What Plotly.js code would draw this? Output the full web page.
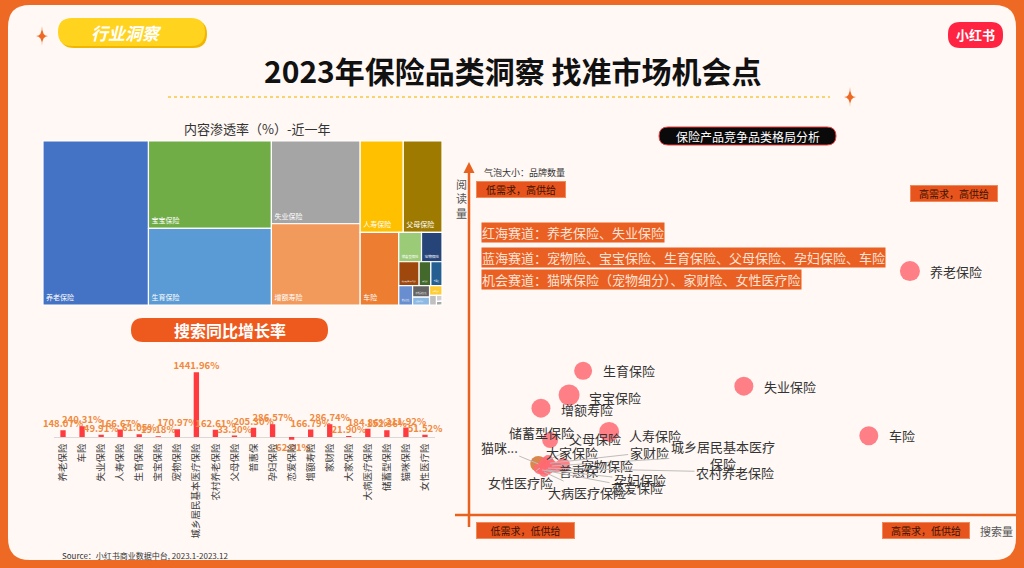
<!DOCTYPE html>
<html><head><meta charset="utf-8">
<script src="https://cdn.plot.ly/plotly-3.0.1.min.js"></script>
<style>html,body{margin:0;padding:0;background:#EE6A24;}#chart{width:1024px;height:568px;}</style>
</head><body><div id="chart"></div>
<script>
// ---------- DATA ----------
const treeLabels = ['养老保险','宝宝保险','生育保险','失业保险','增额寿险','人寿保险','父母保险','车险','储蓄型保险','宠物保险','城乡居民基本医疗保险','孕妇保险','普惠保','恋爱保险','农村养老保险','大病医疗保险','大家保险','家财险','猫咪保险','女性医疗险'];
const treeValues = [25.9,16.1,14.1,11.0,10.8,5.9,5.3,4.2,1.0,0.9,0.73,0.42,0.40,0.40,0.29,0.20,0.18,0.10,0.05,0.03];

const barCategories = ['养老保险','车险','失业保险','人寿保险','生育保险','宝宝保险','宠物保险','城乡居民基本医疗保险','农村养老保险','父母保险','普惠保','孕妇保险','恋爱保险','增额寿险','家财险','大家保险','大病医疗保险','储蓄型保险','猫咪保险','女性医疗险'];
const barGrowth = [148.07,240.31,49.91,166.67,61.05,19.18,170.97,1441.96,162.61,33.30,205.30,286.57,-62.01,166.79,286.74,21.90,184.86,152.36,211.92,51.52];

const bubbleNames = ['养老保险','失业保险','车险','生育保险','宝宝保险','增额寿险','人寿保险','储蓄型保险','父母保险','猫咪保险','大家保险','家财险','城乡居民基本医疗保险','宠物保险','普惠保','农村养老保险','孕妇保险','女性医疗险','大病医疗保险','恋爱保险'];
const bubbleSearch = [81.5,50.8,73.9,21.1,18.5,13.3,25.9,15.0,14.6,12.8,14.0,15.0,15.3,16.1,17.4,14.6,14.2,13.1,13.9,13.5];
const bubbleRead   = [68.7,36.3,22.3,40.6,33.8,30.1,23.4,21.1,15.5,14.4,14.9,14.6,13.8,13.5,14.1,13.2,12.7,13.2,12.1,12.7];
const bubbleBrands = [20,19,19,18,21,19,20,16,10,16,10,10,11,11,14,12,10,12,10,9];

// ---------- STYLE ----------
const F = "'Noto Sans CJK SC','Noto Sans',sans-serif";
const treeColors = ['#4472C4','#70AD47','#5B9BD5','#A5A5A5','#F29A5C','#FFC000','#9E7A00','#ED7D31','#9BCB77','#264478','#9E480E','#43682B','#255E91','#698ED0','#636363','#8CB9E3','#FFCD33','#BFBFBF','#D0D0D0','#A6A6A6'];
const bubbleColors = bubbleNames.map(n => n === '猫咪保险' ? '#D2732E' : '#FF6A73');
const labelPlacement = {
  '养老保险':{side:'right'}, '失业保险':{side:'right'}, '车险':{side:'right'},
  '生育保险':{side:'right'}, '宝宝保险':{side:'right',dy:-2}, '增额寿险':{side:'right',dy:-1},
  '人寿保险':{side:'right',dy:-4},
  '储蓄型保险':{ax:-9,ay:-8,line:false},
  '父母保险':{ax:47,ay:-21,line:true},
  '猫咪保险':{ax:-39,ay:-16,line:true,text:'猫咪...'},
  '大家保险':{ax:27,ay:-10,line:false},
  '家财险':{ax:99,ay:-11,line:true},
  '城乡居民基本医疗保险':{ax:171,ay:-11,line:true,text:'城乡居民基本医疗<br>保险'},
  '宠物保险':{ax:51,ay:-2,line:false},
  '普惠保':{ax:15,ay:6,line:false},
  '农村养老保险':{ax:187,ay:4,line:true},
  '孕妇保险':{ax:94,ay:10,line:true},
  '女性医疗险':{ax:-19,ay:14,line:true},
  '大病医疗保险':{ax:43,ay:20,line:true},
  '恋爱保险':{ax:95,ay:18,line:true}
};

const W=1024,H=568;
const X = p => p/W, Y = p => 1 - p/H;
function rr(x0,y0,x1,y1,r){
  return `M${X(x0+r)},${Y(y0)} L${X(x1-r)},${Y(y0)} Q${X(x1)},${Y(y0)} ${X(x1)},${Y(y0+r)} L${X(x1)},${Y(y1-r)} Q${X(x1)},${Y(y1)} ${X(x1-r)},${Y(y1)} L${X(x0+r)},${Y(y1)} Q${X(x0)},${Y(y1)} ${X(x0)},${Y(y1-r)} L${X(x0)},${Y(y0+r)} Q${X(x0)},${Y(y0)} ${X(x0+r)},${Y(y0)} Z`;
}
function star(cx,cy,a,b){
  return `M${X(cx)},${Y(cy-b)} Q${X(cx)},${Y(cy)} ${X(cx+a)},${Y(cy)} Q${X(cx)},${Y(cy)} ${X(cx)},${Y(cy+b)} Q${X(cx)},${Y(cy)} ${X(cx-a)},${Y(cy)} Q${X(cx)},${Y(cy)} ${X(cx)},${Y(cy-b)} Z`;
}
function pshape(path, fill, lineColor, lw){
  return {type:'path', path, xref:'paper', yref:'paper', fillcolor:fill, line:{color:lineColor||fill, width:lw||0}, layer:'below'};
}

const shapes = [
  pshape(rr(8,5,1016,560,22), '#FFF8F4'),
  pshape(rr(60,20,207,48,14), '#F2B600'),
  pshape(rr(58,18,205,46,14), '#FFD31E'),
  pshape(star(42,36,6,10), '#EE6A24'),
  pshape(star(850,97,6,10), '#EE6A24'),
  pshape(rr(948,22,1003,48,12), '#FF2442'),
  {type:'line', xref:'paper', yref:'paper', x0:X(168), x1:X(830), y0:Y(97), y1:Y(97), line:{color:'#F5C842', width:1.5, dash:'dot'}, layer:'below'},
  pshape(rr(131,318,328,342,12), '#EE5A1E'),
  pshape(rr(659,127,836,145,9), '#0A0A0A', '#E83B3B', 1),
  {type:'line', xref:'paper', yref:'paper', x0:X(455), x1:X(1016), y0:Y(515), y1:Y(515), line:{color:'#E8611F', width:2.5}, layer:'below'},
  {type:'line', xref:'paper', yref:'paper', x0:X(469), x1:X(469), y0:Y(527), y1:Y(170), line:{color:'#E8611F', width:2.5}, layer:'below'},
  {type:'path', xref:'paper', yref:'paper', path:`M${X(463.5)},${Y(173)} L${X(474.5)},${Y(173)} L${X(469)},${Y(162)} Z`, fillcolor:'#E8611F', line:{width:0}, layer:'below'}
];

const ann = [];
function txt(x,y,text,size,color,extra){
  ann.push(Object.assign({xref:'paper',yref:'paper',x:X(x),y:Y(y),text,showarrow:false,font:{family:F,size,color},xanchor:'center',yanchor:'middle'},extra||{}));
}
txt(126,32,'<b>行业洞察</b>',17,'#ffffff',{font:{family:F,size:17,color:'#ffffff',style:'italic'}});
txt(975,35,'<b>小红书</b>',13,'#ffffff');
txt(513,70,'<b>2023年保险品类洞察 找准市场机会点</b>',30,'#111111');
txt(257,128,'内容渗透率（%）-近一年',13,'#333333');
txt(230,330,'<b>搜索同比增长率</b>',16,'#ffffff');
txt(748,136,'保险产品竞争品类格局分析',12,'#ffffff');
txt(60,555,'Source：小红书商业数据中台, 2023.1-2023.12',8,'#333333',{xanchor:'left'});
txt(482,172,'气泡大小：品牌数量',9,'#333333',{xanchor:'left'});
txt(461,198,'阅<br>读<br>量',11,'#555555');
txt(996,531,'搜索量',11,'#555555');
[[233,'红海赛道：养老保险、失业保险'],[257,'蓝海赛道：宠物险、宝宝保险、生育保险、父母保险、孕妇保险、车险'],[279,'机会赛道：猫咪保险（宠物细分）、家财险、女性医疗险']].forEach(s=>{
  txt(481,s[0],s[1],13,'#FDE3D6',{xanchor:'left',bgcolor:'#EA5F22',borderpad:0});
});
[[521,189,90,'低需求，高供给'],[954,193,88,'高需求，高供给'],[525,530,99,'低需求，低供给'],[926,530,88,'高需求，低供给']].forEach(c=>{
  txt(c[0],c[1],c[3],10,'#3A1200',{bgcolor:'#E8541E',bordercolor:'#F08A5A',borderwidth:1,width:c[2]-2,height:15,borderpad:0});
});

bubbleNames.forEach((n,i)=>{
  const p = labelPlacement[n];
  const t = p.text || n;
  if (p.side === 'right') {
    ann.push({xref:'x2',yref:'y2',x:bubbleSearch[i],y:bubbleRead[i],text:t,showarrow:false,xanchor:'left',yanchor:'middle',
      xshift:18,yshift:(p.dy||0),font:{family:F,size:13,color:'#333333'}});
  } else {
    ann.push({xref:'x2',yref:'y2',x:bubbleSearch[i],y:bubbleRead[i],text:t,showarrow:true,ax:p.ax,ay:p.ay,arrowhead:0,arrowwidth:1,standoff:0,startstandoff:0,
      arrowcolor:p.line?'#BDBDBD':'rgba(0,0,0,0)',xanchor:'center',yanchor:'middle',font:{family:F,size:13,color:'#333333'}});
  }
});

const traces = [
  {type:'treemap', labels:treeLabels, parents:treeLabels.map(()=>''), values:treeValues,
   marker:{colors:treeColors, line:{width:1.2,color:'#ffffff'}, pad:{t:0,l:0,r:0,b:0}},
   textinfo:'label', textposition:'bottom left', textfont:{family:F,size:7,color:'#ffffff'},
   tiling:{packing:'squarify', squarifyratio:1.25, pad:0}, pathbar:{visible:false}, sort:true,
   domain:{x:[X(43),X(442)], y:[Y(305),Y(141)]}, hoverinfo:'skip'},
  {type:'bar', x:barCategories, y:barGrowth, xaxis:'x', yaxis:'y', width:0.28,
   marker:{color:'#FF3B3F'}, text:barGrowth.map(v=>v.toFixed(2)+'%'), textposition:'outside',
   textfont:{family:F,size:9.5,color:'#F0893C',weight:600}, constraintext:'none', cliponaxis:false, hoverinfo:'skip'},
  {type:'scatter', mode:'markers', x:bubbleSearch, y:bubbleRead, xaxis:'x2', yaxis:'y2',
   marker:{size:bubbleBrands, sizemode:'diameter', color:bubbleColors, opacity:0.85, line:{width:0}},
   cliponaxis:false, hoverinfo:'skip'}
];

const layout = {
  width:W, height:H, margin:{l:0,r:0,t:0,b:0,pad:0},
  paper_bgcolor:'#EE6A24', plot_bgcolor:'rgba(0,0,0,0)', showlegend:false, hovermode:false,
  font:{family:F},
  xaxis:{domain:[X(53.5),X(434.5)], anchor:'y', type:'category', tickangle:-90, tickfont:{family:F,size:9.5,color:'#404040'},
         showgrid:false, showline:false, ticks:'', automargin:false, fixedrange:true},
  yaxis:{domain:[Y(440.6),Y(360.7)], anchor:'x', range:[-80,1700], showticklabels:false, showgrid:false,
         zeroline:true, zerolinecolor:'#D9D9D9', zerolinewidth:1, showline:false, ticks:'', automargin:false},
  xaxis2:{domain:[X(469),X(1010)], anchor:'y2', range:[0,100], visible:false, automargin:false},
  yaxis2:{domain:[Y(515),Y(160)], anchor:'x2', range:[0,100], visible:false, automargin:false},
  shapes, annotations:ann
};
Plotly.newPlot('chart', traces, layout, {staticPlot:true, displayModeBar:false});
</script></body></html>
